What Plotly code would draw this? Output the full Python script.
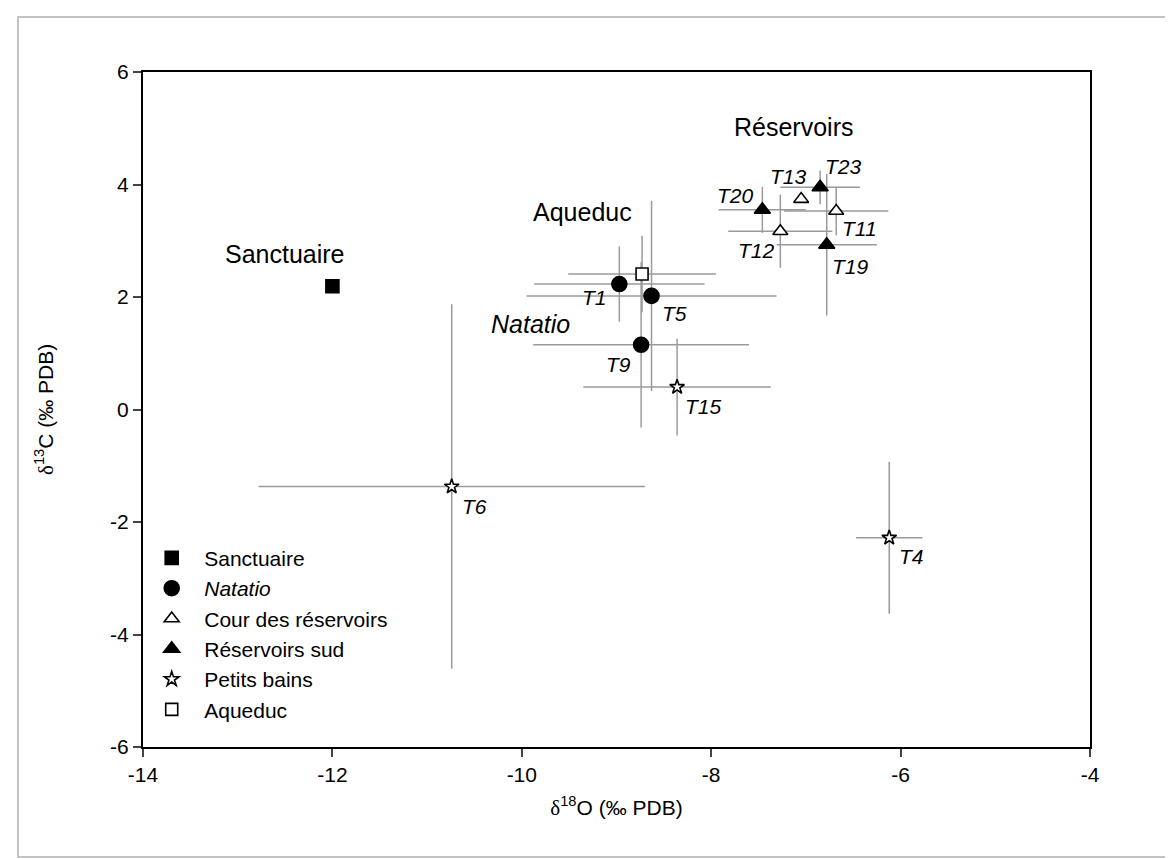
import plotly.graph_objects as go

# --- données (δ18O, δ13C, écarts) ---
sanct_x = [-12.0]
sanct_y = [2.19]

natatio_lab = ["T1", "T5", "T9"]
natatio_x = [-8.97, -8.63, -8.74]
natatio_y = [2.23, 2.02, 1.15]
natatio_xerr = [0.90, 1.32, 1.14]
natatio_yerr = [0.67, 1.69, 1.47]

cour_lab = ["T11", "T12", "T13"]
cour_x = [-6.68, -7.27, -7.05]
cour_y = [3.53, 3.17, 3.74]
cour_xerr = [0.55, 0.55, 0.0]
cour_yerr = [0.43, 0.65, 0.0]

sud_lab = ["T19", "T20", "T23"]
sud_x = [-6.78, -7.46, -6.85]
sud_y = [2.93, 3.55, 3.95]
sud_xerr = [0.53, 0.46, 0.42]
sud_yerr = [1.26, 0.41, 0.30]

petits_lab = ["T4", "T6", "T15"]
petits_x = [-6.12, -10.74, -8.36]
petits_y = [-2.28, -1.37, 0.40]
petits_xerr = [0.35, 2.04, 0.99]
petits_yerr = [1.35, 3.24, 0.86]

aqueduc_x = [-8.73]
aqueduc_y = [2.41]
aqueduc_xerr = [0.78]
aqueduc_yerr = [0.68]

x_ticks = [-14, -12, -10, -8, -6, -4]
x_ticktext = ["-14", "-12", "-10", "-8", "-6", "-4"]
y_ticks = [-6, -4, -2, 0, 2, 4, 6]
y_ticktext = ["-6", "-4", "-2", "0", "2", "4", "6"]

FONT = "Arial, Liberation Sans, sans-serif"
ERR_COL = "#9a9a9a"
DELTA = "<span style='font-family:Liberation Serif, Times New Roman, serif'>δ</span>"

groupes = [
    # nom, x, y, xerr, yerr, symbole, remplissage, taille
    ("Sanctuaire", sanct_x, sanct_y, None, None, "square", "black", 13),
    ("<i>Natatio</i>", natatio_x, natatio_y, natatio_xerr, natatio_yerr, "circle", "black", 15),
    ("Cour des réservoirs", cour_x, cour_y, cour_xerr, cour_yerr, "triangle-up", "white", 13),
    ("Réservoirs sud", sud_x, sud_y, sud_xerr, sud_yerr, "triangle-up", "black", 14),
    ("Petits bains", petits_x, petits_y, petits_xerr, petits_yerr, "star", "white", 11),
    ("Aqueduc", aqueduc_x, aqueduc_y, aqueduc_xerr, aqueduc_yerr, "square", "white", 12),
]

fig = go.Figure()

# barres d'erreur d'abord, sous tous les marqueurs
for nom, xs, ys, xe, ye, sym, fill, size in groupes:
    if xe is None:
        continue
    fig.add_trace(go.Scatter(
        x=xs, y=ys, mode="markers",
        marker=dict(color="rgba(0,0,0,0)", size=1),
        error_x=dict(type="data", array=xe, color=ERR_COL, thickness=1.5, width=0),
        error_y=dict(type="data", array=ye, color=ERR_COL, thickness=1.5, width=0),
        showlegend=False, hoverinfo="skip",
    ))

# marqueurs
for nom, xs, ys, xe, ye, sym, fill, size in groupes:
    fig.add_trace(go.Scatter(
        x=xs, y=ys, mode="markers", name=nom,
        marker=dict(symbol=sym, size=size, color=fill,
                    line=dict(color="black", width=1.6)),
    ))

# étiquettes des échantillons (décalage en pixels)
decalages = {
    "T1": (-25, -13), "T5": (23, -18), "T9": (-23, -20), "T15": (26, -19),
    "T20": (-27, 14), "T13": (-13, 23), "T23": (23, 21), "T11": (23, -18),
    "T12": (-24, -19), "T19": (24, -22), "T6": (23, -20), "T4": (22, -19),
}
for labs, xs, ys in [(natatio_lab, natatio_x, natatio_y), (cour_lab, cour_x, cour_y),
                     (sud_lab, sud_x, sud_y), (petits_lab, petits_x, petits_y)]:
    for lab, xv, yv in zip(labs, xs, ys):
        dx, dy = decalages[lab]
        fig.add_annotation(x=xv, y=yv, text=f"<i>{lab}</i>", showarrow=False,
                           xshift=dx, yshift=dy,
                           font=dict(family=FONT, size=21, color="black"))

# noms des groupes
for txt, xv, yv in [("Sanctuaire", -12.50, 2.77), ("Aqueduc", -9.36, 3.51),
                    ("<i>Natatio</i>", -9.91, 1.52), ("Réservoirs", -7.13, 5.03)]:
    fig.add_annotation(x=xv, y=yv, text=txt, showarrow=False,
                       font=dict(family=FONT, size=25, color="black"))

# titre de l'axe y placé à la main
fig.add_annotation(xref="paper", yref="paper", x=-0.104, y=0.5,
                   text=f"{DELTA}<sup>13</sup>C (‰ PDB)", textangle=-90,
                   showarrow=False, xanchor="center", yanchor="middle",
                   font=dict(family=FONT, size=21, color="black"))

# cadre extérieur
fig.add_shape(type="rect", xref="paper", yref="paper",
              x0=-0.132, x1=1.0855, y0=-0.163, y1=1.0816,
              line=dict(color="#b0b0b0", width=1.5))

fig.update_xaxes(
    range=[-14, -4], tickvals=x_ticks, ticktext=x_ticktext,
    ticks="outside", ticklen=8, tickwidth=1.5,
    showline=True, linecolor="black", linewidth=2, mirror=True, showgrid=False,
    zeroline=False, tickfont=dict(family=FONT, size=21, color="black"),
    title=dict(text=f"{DELTA}<sup>18</sup>O (‰ PDB)",
               font=dict(family=FONT, size=21, color="black")),
)
fig.update_yaxes(
    range=[-6, 6], tickvals=y_ticks, ticktext=y_ticktext,
    ticks="outside", ticklen=8, tickwidth=1.5,
    showline=True, linecolor="black", linewidth=2, mirror=True, showgrid=False,
    zeroline=False, tickfont=dict(family=FONT, size=21, color="black"),
)

fig.update_layout(
    width=1173, height=859,
    margin=dict(l=135, r=91, t=64, b=120, autoexpand=False),
    plot_bgcolor="white", paper_bgcolor="white",
    legend=dict(x=-0.004, y=0.31, xanchor="left", yanchor="top",
                itemwidth=55, bgcolor="rgba(0,0,0,0)", tracegroupgap=0,
                font=dict(family=FONT, size=21, color="black")),
)

fig.write_html("out.html")
